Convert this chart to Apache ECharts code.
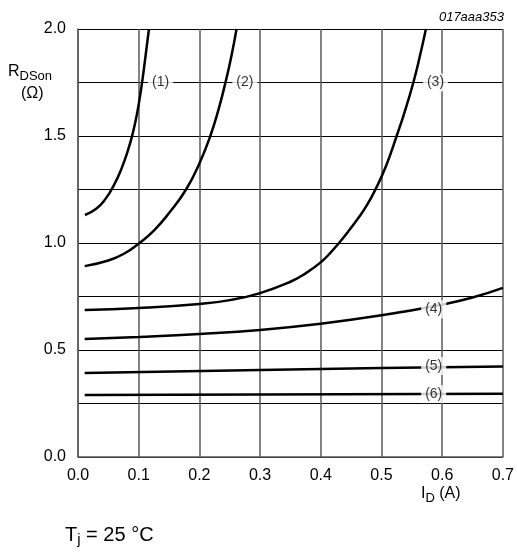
<!DOCTYPE html>
<html>
<head>
<meta charset="utf-8">
<script src="https://cdn.jsdelivr.net/npm/echarts@6/dist/echarts.min.js"></script>
<style>
  html, body { margin: 0; padding: 0; background: #fff; }
  #chart { width: 517px; height: 552px; }
</style>
</head>
<body>
<div id="chart"></div>
<script>
'use strict';

// R_DSon vs I_D curves
const curve1X = [0.0115, 0.03, 0.045, 0.06, 0.072, 0.082, 0.09, 0.097, 0.104, 0.11, 0.1169];
const curve1Y = [1.131, 1.16, 1.205, 1.275, 1.35, 1.43, 1.51, 1.6, 1.72, 1.845, 2.0];
const curve2X = [0.011, 0.05, 0.077, 0.101, 0.125, 0.15, 0.178, 0.2, 0.218, 0.232, 0.2426, 0.252, 0.2612];
const curve2Y = [0.892, 0.918, 0.952, 1.0, 1.058, 1.14, 1.25, 1.372, 1.5, 1.629, 1.746, 1.863, 2.0];
const curve3X = [0.011, 0.1, 0.2, 0.25, 0.3, 0.35, 0.375, 0.4, 0.415, 0.43, 0.445, 0.46, 0.475, 0.49, 0.5075, 0.525, 0.539, 0.5525, 0.563, 0.5732];
const curve3Y = [0.687, 0.696, 0.715, 0.733, 0.766, 0.819, 0.858, 0.91, 0.952, 1.0, 1.053, 1.11, 1.172, 1.25, 1.36, 1.5, 1.62, 1.75, 1.87, 2.0];
const curve4X = [0.011, 0.1, 0.2, 0.3, 0.4, 0.5, 0.6, 0.65, 0.7];
const curve4Y = [0.551, 0.561, 0.575, 0.594, 0.623, 0.662, 0.712, 0.745, 0.79];
const curve5X = [0.011, 0.3, 0.5, 0.7];
const curve5Y = [0.393, 0.407, 0.416, 0.423];
const curve6X = [0.011, 0.3, 0.7];
const curve6Y = [0.29, 0.292, 0.296];

// curve tags "(1)".."(6)" and where they sit (data units)
const tagText = ['(1)', '(2)', '(3)', '(4)', '(5)', '(6)'];
const tagX = [0.136, 0.275, 0.589, 0.586, 0.586, 0.586];
const tagY = [1.75, 1.75, 1.75, 0.69, 0.425, 0.294];

const FONT = 'Liberation Sans, Arial, sans-serif';

const zip = (xs, ys) => xs.map((x, i) => [x, ys[i]]);

const curves = [
  zip(curve1X, curve1Y),
  zip(curve2X, curve2Y),
  zip(curve3X, curve3Y),
  zip(curve4X, curve4Y),
  zip(curve5X, curve5Y),
  zip(curve6X, curve6Y),
];

const lineSeries = curves.map((data) => ({
  type: 'line',
  data,
  smooth: 0.5,
  smoothConstraint: false,
  symbol: 'none',
  silent: true,
  z: 3,
  lineStyle: { color: '#000', width: 2.5 },
}));

const tagSeries = {
  type: 'scatter',
  symbolSize: 0,
  silent: true,
  z: 10,
  data: tagText.map((t, i) => ({ value: [tagX[i], tagY[i]], name: t })),
  label: {
    show: true,
    position: 'inside',
    formatter: (p) => p.name,
    fontFamily: FONT,
    fontSize: 14,
    color: '#000',
    backgroundColor: '#fff',
    padding: [2, 4],
  },
};

const chart = echarts.init(document.getElementById('chart'));
chart.setOption({
  animation: false,
  backgroundColor: '#fff',
  grid: { left: 78, right: 12, top: 29, bottom: 95 },
  xAxis: {
    type: 'value',
    min: 0,
    max: 0.7,
    interval: 0.1,
    axisLine: { show: true, lineStyle: { color: '#5a5a5a', width: 1.5 } },
    axisTick: { show: false },
    axisLabel: {
      color: '#000', fontFamily: FONT, fontSize: 16, margin: 11,
      formatter: (v) => v.toFixed(1),
    },
    splitLine: { show: true, lineStyle: { color: '#5a5a5a', width: 1.5 } },
  },
  yAxis: {
    type: 'value',
    min: 0,
    max: 2,
    interval: 0.5,
    axisLine: { show: true, lineStyle: { color: '#5a5a5a', width: 1.5 } },
    axisTick: { show: false },
    minorTick: { show: false, splitNumber: 2 },
    minorSplitLine: { show: true, lineStyle: { color: '#000', width: 1 } },
    axisLabel: {
      color: '#000', fontFamily: FONT, fontSize: 16, margin: 12,
      formatter: (v) => v.toFixed(1),
    },
    splitLine: { show: true, lineStyle: { color: '#000', width: 1 } },
  },
  graphic: [
    {
      type: 'text', left: 8, top: 64,
      style: {
        text: 'R{sub|DSon}', fontFamily: FONT, fontSize: 16, fill: '#000',
        rich: { sub: { fontFamily: FONT, fontSize: 13, padding: [8, 0, 0, 0] } },
      },
    },
    {
      type: 'text', left: 21, top: 86,
      style: { text: '(Ω)', fontFamily: FONT, fontSize: 16, fill: '#000' },
    },
    {
      type: 'text', right: 13, top: 11,
      style: { text: '017aaa353', fontFamily: FONT, fontSize: 13, fontStyle: 'italic', fill: '#000' },
    },
    {
      type: 'text', left: 421, top: 486,
      style: {
        text: 'I{sub|D} (A)', fontFamily: FONT, fontSize: 16, fill: '#000',
        rich: { sub: { fontFamily: FONT, fontSize: 13, padding: [8, 0, 0, 0] } },
      },
    },
    {
      type: 'text', left: 65, top: 525,
      style: {
        text: 'T{sub|j} = 25 °C', fontFamily: FONT, fontSize: 20, fill: '#000',
        rich: { sub: { fontFamily: FONT, fontSize: 15, padding: [9, 0, 0, 0] } },
      },
    },
  ],
  series: lineSeries.concat([tagSeries]),
});
</script>
</body>
</html>
